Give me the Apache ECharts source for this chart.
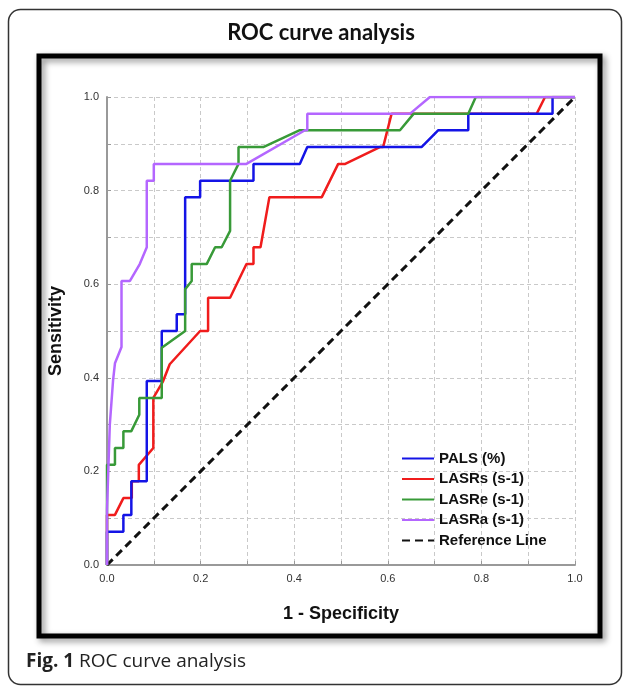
<!DOCTYPE html>
<html>
<head>
<meta charset="utf-8">
<script src="https://cdn.jsdelivr.net/npm/echarts@6/dist/echarts.min.js"></script>
<style>
    html, body { margin: 0; padding: 0; background: #fff; }
    #chart { width: 627px; height: 687px; }
</style>
</head>
<body>
<div id="chart"></div>
<script>
// ROC curves, 1 - specificity (x) against sensitivity (y)
var palsX = [0, 0, 0.035, 0.035, 0.052, 0.052, 0.085, 0.085, 0.117, 0.117, 0.149, 0.149, 0.167, 0.167, 0.199, 0.199, 0.313, 0.313, 0.412, 0.428, 0.672, 0.708, 0.772, 0.772, 0.952, 0.952, 1];
var palsY = [0, 0.071, 0.071, 0.107, 0.107, 0.179, 0.179, 0.393, 0.393, 0.5, 0.5, 0.536, 0.536, 0.786, 0.786, 0.821, 0.821, 0.857, 0.857, 0.893, 0.893, 0.929, 0.929, 0.964, 0.964, 1, 1];

var lasrsX = [0, 0, 0.017, 0.035, 0.053, 0.053, 0.068, 0.068, 0.099, 0.099, 0.12, 0.134, 0.199, 0.216, 0.216, 0.263, 0.298, 0.313, 0.313, 0.328, 0.347, 0.459, 0.494, 0.509, 0.583, 0.59, 0.608, 0.918, 0.936, 1];
var lasrsY = [0, 0.107, 0.107, 0.143, 0.143, 0.179, 0.179, 0.214, 0.25, 0.357, 0.393, 0.429, 0.5, 0.5, 0.571, 0.571, 0.643, 0.643, 0.679, 0.679, 0.786, 0.786, 0.857, 0.857, 0.893, 0.893, 0.964, 0.964, 1, 1];

var lasreX = [0, 0, 0.017, 0.017, 0.035, 0.035, 0.052, 0.069, 0.069, 0.117, 0.117, 0.167, 0.167, 0.181, 0.181, 0.213, 0.231, 0.245, 0.263, 0.263, 0.281, 0.281, 0.334, 0.412, 0.626, 0.655, 0.772, 0.788, 1];
var lasreY = [0, 0.214, 0.214, 0.25, 0.25, 0.286, 0.286, 0.321, 0.357, 0.357, 0.464, 0.5, 0.589, 0.607, 0.643, 0.643, 0.679, 0.679, 0.714, 0.821, 0.857, 0.893, 0.893, 0.929, 0.929, 0.964, 0.964, 1, 1];

var lasraX = [0, 0, 0.006, 0.013, 0.017, 0.031, 0.031, 0.049, 0.07, 0.085, 0.085, 0.1, 0.1, 0.298, 0.423, 0.428, 0.428, 0.647, 0.69, 1];
var lasraY = [0, 0.118, 0.3, 0.395, 0.431, 0.466, 0.607, 0.607, 0.643, 0.679, 0.821, 0.821, 0.857, 0.857, 0.929, 0.929, 0.964, 0.964, 1, 1];

var refX = [0, 1];
var refY = [0, 1];

var seriesNames = ['PALS (%)', 'LASRs (s-1)', 'LASRe (s-1)', 'LASRa (s-1)', 'Reference Line'];

function zip(xs, ys) {
    var out = [];
    for (var i = 0; i < xs.length; i++) {
        out.push([xs[i], ys[i]]);
    }
    return out;
}

function rocSeries(name, xs, ys, color) {
    return {
        name: name,
        type: 'line',
        symbol: 'none',
        showSymbol: false,
        lineStyle: { color: color, width: 2.5 },
        itemStyle: { color: color },
        data: zip(xs, ys)
    };
}

var chart = echarts.init(document.getElementById('chart'));

var gridLine = { show: true, lineStyle: { color: '#c9c9c9', type: [4, 3], width: 1 } };

var tickLabel = {
    margin: 8,
    fontFamily: 'Arial',
    fontSize: 11,
    color: '#333',
    formatter: function (v) {
        return Math.round(v * 10) % 2 === 0 ? v.toFixed(1) : '';
    }
};

var option = {
    backgroundColor: '#fff',
    animation: false,
    title: {
        text: '{b|Fig. 1} ROC curve analysis',
        left: 21,
        top: 647,
        textStyle: {
            fontFamily: 'Open Sans',
            fontSize: 19,
            fontWeight: 'normal',
            color: '#222',
            rich: {
                b: { fontFamily: 'Open Sans', fontSize: 19, fontWeight: 'bold', color: '#222' }
            }
        }
    },
    grid: { left: 107, right: 52, top: 97, bottom: 122 },
    legend: {
        data: seriesNames,
        orient: 'vertical',
        left: 396,
        top: 446,
        itemWidth: 32,
        itemHeight: 12,
        itemGap: 5.5,
        itemStyle: { opacity: 0 },
        textStyle: { fontFamily: 'Arial', fontWeight: 'bold', fontSize: 15, color: '#111' }
    },
    xAxis: {
        type: 'value',
        min: 0,
        max: 1,
        interval: 0.1,
        name: '1 - Specificity',
        nameLocation: 'middle',
        nameGap: 40,
        nameTextStyle: { fontFamily: 'Arial', fontWeight: 'bold', fontSize: 18, color: '#111' },
        axisLine: { lineStyle: { color: '#999', width: 2 } },
        axisTick: { show: true, inside: true, length: 4, lineStyle: { color: '#999' } },
        axisLabel: tickLabel,
        splitLine: gridLine
    },
    yAxis: {
        type: 'value',
        min: 0,
        max: 1,
        interval: 0.1,
        name: 'Sensitivity',
        nameLocation: 'middle',
        nameGap: 42,
        nameTextStyle: { fontFamily: 'Arial', fontWeight: 'bold', fontSize: 18, color: '#111' },
        axisLine: { show: true, lineStyle: { color: '#999', width: 2 } },
        axisTick: { show: true, inside: true, length: 4, lineStyle: { color: '#999' } },
        axisLabel: tickLabel,
        splitLine: gridLine
    },
    series: [
        {
            name: 'Reference Line',
            type: 'line',
            symbol: 'none',
            showSymbol: false,
            lineStyle: { color: '#111', width: 3, type: [8, 5] },
            itemStyle: { color: '#111' },
            data: zip(refX, refY)
        },
        rocSeries('LASRs (s-1)', lasrsX, lasrsY, '#f01c1c'),
        rocSeries('PALS (%)', palsX, palsY, '#1414e6'),
        rocSeries('LASRe (s-1)', lasreX, lasreY, '#389a38'),
        rocSeries('LASRa (s-1)', lasraX, lasraY, '#b466ff')
    ],
    graphic: [
        {
            type: 'rect',
            z: 0,
            silent: true,
            shape: { x: 8.5, y: 9.5, width: 613, height: 675, r: 12 },
            style: { fill: 'none', stroke: '#333', lineWidth: 1.5 }
        },
        {
            type: 'rect',
            z: 0,
            silent: true,
            shape: { x: 39, y: 56, width: 561, height: 580 },
            style: {
                fill: 'none',
                stroke: '#000',
                lineWidth: 5,
                shadowBlur: 6,
                shadowOffsetX: 3,
                shadowOffsetY: 3,
                shadowColor: 'rgba(0,0,0,0.45)'
            }
        },
        {
            type: 'text',
            silent: true,
            style: {
                text: 'ROC curve analysis',
                x: 321,
                y: 33,
                textAlign: 'center',
                textVerticalAlign: 'middle',
                font: 'bold 22px Lato',
                fill: '#111'
            }
        }
    ]
};

chart.setOption(option);
</script>
</body>
</html>
